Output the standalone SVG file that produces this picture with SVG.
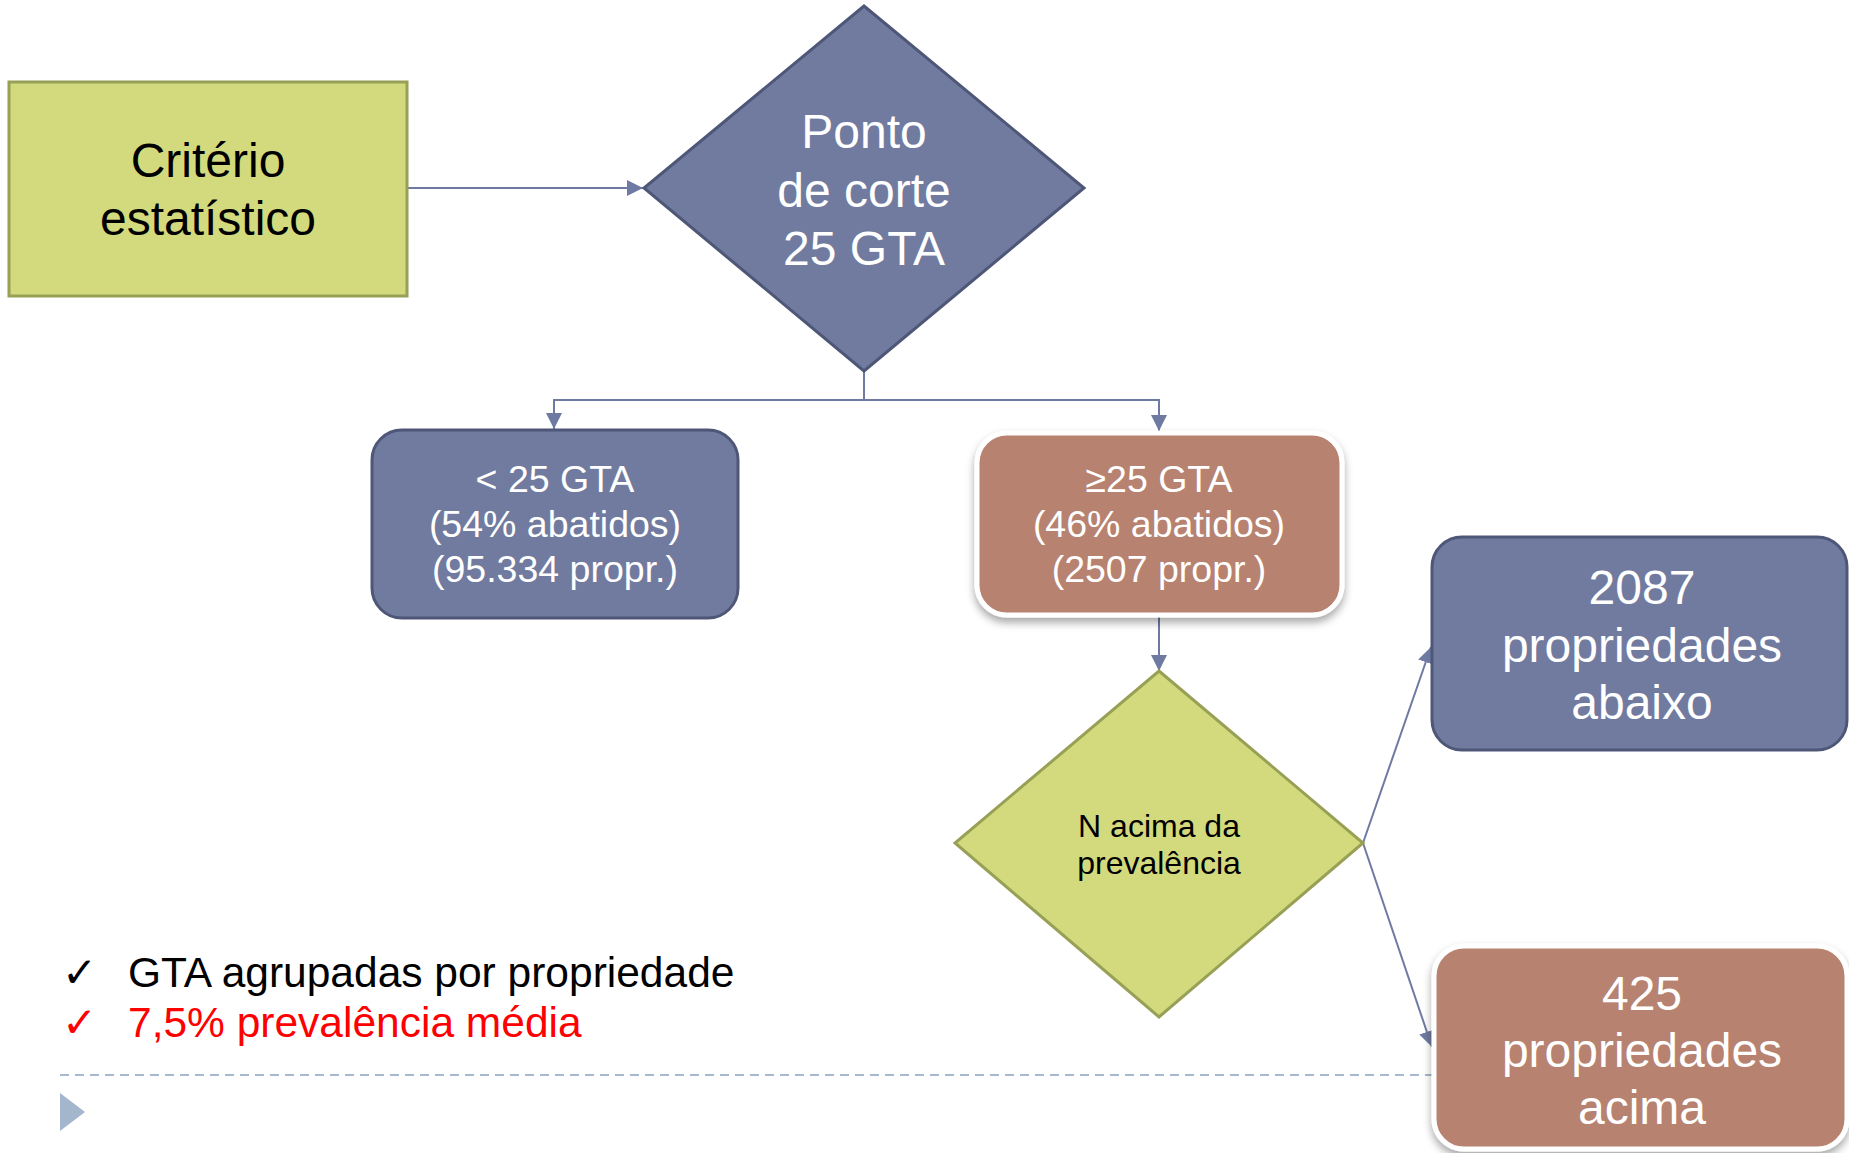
<svg xmlns="http://www.w3.org/2000/svg" width="1849" height="1153" viewBox="0 0 1849 1153">
<style>
.blue{fill:#717B9F;stroke:#4E5777;stroke-width:3}
.brown{fill:#B7826F;stroke:#FFFFFF;stroke-width:5}
.green{fill:#D3DA7D;stroke:#98A055;stroke-width:3}
.conn{fill:none;stroke:#6F7AA3;stroke-width:2}
.w{fill:#FFFFFF;font-family:"Liberation Sans",Arial,sans-serif;text-anchor:middle}
.k{fill:#000000;font-family:"Liberation Sans",Arial,sans-serif;text-anchor:middle}
</style>
<defs>
<marker id="arr" viewBox="0 0 10 10" refX="10" refY="5" markerWidth="8" markerHeight="8" markerUnits="strokeWidth" orient="auto">
<path d="M0,0 L10,5 L0,10 Z" fill="#6F7AA3"/>
</marker>
<filter id="sh" x="-10%" y="-10%" width="120%" height="130%">
<feDropShadow dx="0" dy="5" stdDeviation="4" flood-color="#000" flood-opacity="0.35"/>
</filter>
</defs>
<rect width="1849" height="1153" fill="#FFFFFF"/>

<g id="connectors">
<line class="conn" x1="407" y1="188" x2="643" y2="188" marker-end="url(#arr)"/>
<polyline class="conn" points="864,371 864,400 554,400 554,429" marker-end="url(#arr)"/>
<polyline class="conn" points="864,400 1159,400 1159,431" marker-end="url(#arr)"/>
<line class="conn" x1="1159" y1="617" x2="1159" y2="671" marker-end="url(#arr)"/>
<line class="conn" x1="1363" y1="843" x2="1431" y2="647" marker-end="url(#arr)"/>
<line class="conn" x1="1363" y1="843" x2="1432" y2="1047" marker-end="url(#arr)"/>
</g>

<g id="footer">
<line x1="60" y1="1075" x2="1433" y2="1075" stroke="#A6B9CE" stroke-width="2" stroke-dasharray="9,6"/>
<polygon points="60,1093 85,1112 60,1131" fill="#A3B6CC"/>
</g>

<g id="criterio">
<rect class="green" x="9" y="82" width="398" height="214"/>
<text class="k" x="208" y="177" font-size="48">Critério</text>
<text class="k" x="208" y="235" font-size="48">estatístico</text>
</g>

<g id="ponto">
<polygon class="blue" points="864,6 1084,188 864,371 644,188"/>
<text class="w" x="864" y="148" font-size="48">Ponto</text>
<text class="w" x="864" y="207" font-size="48">de corte</text>
<text class="w" x="864" y="265" font-size="48">25 GTA</text>
</g>

<g id="menor25">
<rect class="blue" x="372" y="430" width="366" height="188" rx="30"/>
<text class="w" x="555" y="492" font-size="37.5">&lt; 25 GTA</text>
<text class="w" x="555" y="537" font-size="37.5">(54% abatidos)</text>
<text class="w" x="555" y="582" font-size="37.5">(95.334 propr.)</text>
</g>

<g id="maior25">
<rect class="brown" filter="url(#sh)" x="977" y="433" width="365" height="182" rx="30"/>
<text class="w" x="1159" y="492" font-size="37.5">≥25 GTA</text>
<text class="w" x="1159" y="537" font-size="37.5">(46% abatidos)</text>
<text class="w" x="1159" y="582" font-size="37.5">(2507 propr.)</text>
</g>

<g id="prevalencia">
<polygon class="green" points="1159,671 1363,843 1159,1017 955,843"/>
<text class="k" x="1159" y="837" font-size="32">N acima da</text>
<text class="k" x="1159" y="874" font-size="32">prevalência</text>
</g>

<g id="abaixo">
<rect class="blue" x="1432" y="537" width="415" height="213" rx="30"/>
<text class="w" x="1642" y="604" font-size="48">2087</text>
<text class="w" x="1642" y="662" font-size="48">propriedades</text>
<text class="w" x="1642" y="719" font-size="48">abaixo</text>
</g>

<g id="acima">
<rect class="brown" filter="url(#sh)" x="1434" y="946" width="413" height="203" rx="30"/>
<text class="w" x="1642" y="1010" font-size="48">425</text>
<text class="w" x="1642" y="1067" font-size="48">propriedades</text>
<text class="w" x="1642" y="1124" font-size="48">acima</text>
</g>

<g id="notes" font-family="'Liberation Sans',Arial,sans-serif">
<text x="62" y="987" font-size="42" font-family="'DejaVu Sans',sans-serif" fill="#000000">✓</text>
<text x="128" y="987" font-size="42.5" fill="#000000">GTA agrupadas por propriedade</text>
<text x="62" y="1037" font-size="42" font-family="'DejaVu Sans',sans-serif" fill="#FF0000">✓</text>
<text x="128" y="1037" font-size="42.5" fill="#FF0000">7,5% prevalência média</text>
</g>
</svg>
